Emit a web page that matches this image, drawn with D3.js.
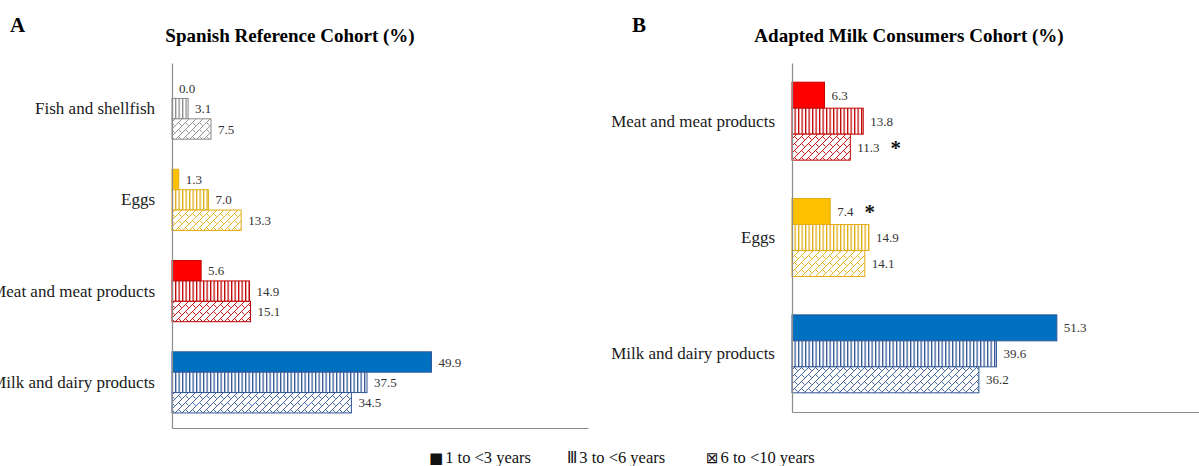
<!DOCTYPE html>
<html>
<head>
<meta charset="utf-8">
<script src="https://cdn.jsdelivr.net/npm/d3@7"></script>
<style>
  body { margin: 0; background: #fff; }
  svg { display: block; font-family: "Liberation Serif", "DejaVu Serif", serif; }
  .domain { stroke: #8c8c8c; stroke-width: 1.2; }
  .cat text { font-size: 17px; fill: #1a1a1a; font-family: "Liberation Serif", serif; }
  .val { font-size: 13px; fill: #333; }
</style>
</head>
<body>
<svg id="viz" width="1199" height="466"></svg>
<script>
// DATA
const seriesNames = ["1 to <3 years", "3 to <6 years", "6 to <10 years"];
const legendMarks = ["■", "Ⅲ", "⊠"];

const spanishCategories = ["Fish and shellfish", "Eggs", "Meat and meat products", "Milk and dairy products"];
const spanish1to3 = [0.0, 1.3, 5.6, 49.9];
const spanish3to6 = [3.1, 7.0, 14.9, 37.5];
const spanish6to10 = [7.5, 13.3, 15.1, 34.5];

const adaptedCategories = ["Meat and meat products", "Eggs", "Milk and dairy products"];
const adapted1to3 = [6.3, 7.4, 51.3];
const adapted3to6 = [13.8, 14.9, 39.6];
const adapted6to10 = [11.3, 14.1, 36.2];
// asterisk = significant difference vs reference cohort
const adaptedStar1to3 = [false, true, false];
const adaptedStar3to6 = [false, false, false];
const adaptedStar6to10 = [true, false, false];

(function () {
    'use strict';
    var svg = d3.select("#viz");
    var fmt = d3.format(".1f");

    // colours per food group: [solid fill, line colour]
    var palette = {
        "Fish and shellfish": ["#a6a6a6", "#8a8a8a"],
        "Eggs": ["#ffc000", "#e2ac10"],
        "Meat and meat products": ["#ff0000", "#c00000"],
        "Milk and dairy products": ["#0070c0", "#2f5597"]
    };

    // PATTERNS
    var defs = svg.append("defs");
    Object.keys(palette).forEach(function (k, i) {
        var c = palette[k][1];
        var vp = defs.append("pattern").attr("id", "vert" + i)
            .attr("patternUnits", "userSpaceOnUse").attr("width", 3.5).attr("height", 6);
        vp.append("rect").attr("width", 3.5).attr("height", 6).attr("fill", "#fff");
        vp.append("rect").attr("x", 0).attr("width", 1.3).attr("height", 6).attr("fill", c);

        var bp = defs.append("pattern").attr("id", "brick" + i)
            .attr("patternUnits", "userSpaceOnUse").attr("width", 7).attr("height", 7);
        bp.append("rect").attr("width", 7).attr("height", 7).attr("fill", "#fff");
        bp.append("path")
            .attr("d", "M0,7 L7,0 M-2,2 L2,-2 M5,9 L9,5 M3.5,3.5 L6.5,6.5")
            .attr("stroke", c).attr("stroke-width", 0.9).attr("fill", "none");
    });
    function fillFor(cat, s) {
        var i = Object.keys(palette).indexOf(cat);
        if (s === 0) return palette[cat][0];
        return s === 1 ? "url(#vert" + i + ")" : "url(#brick" + i + ")";
    }

    function drawPanel(p) {
        var y = d3.scaleBand().domain(p.categories).range([63, p.bottom])
            .paddingInner(0.33).paddingOuter(0.165);
        var ys = d3.scaleBand().domain(d3.range(3)).range([0, y.bandwidth()]);
        var x = d3.scaleLinear().domain([0, 80]).range(p.xRange);

        var rows = [];
        p.categories.forEach(function (c, ci) {
            p.values.forEach(function (arr, s) {
                rows.push({ cat: c, s: s, v: arr[ci], star: p.stars ? p.stars[s][ci] : false });
            });
        });

        var g = svg.append("g");
        g.selectAll(".bar").data(rows.filter(function (d) { return d.v > 0; }))
            .enter().append("rect")
            .attr("class", "bar")
            .attr("x", x(0))
            .attr("y", function (d) { return y(d.cat) + ys(d.s); })
            .attr("width", function (d) { return x(d.v) - x(0); })
            .attr("height", ys.bandwidth())
            .attr("fill", function (d) { return fillFor(d.cat, d.s); })
            .attr("stroke", function (d) { return palette[d.cat][1]; })
            .attr("stroke-width", 1);

        var lbl = g.selectAll(".val").data(rows).enter().append("text")
            .attr("class", "val")
            .attr("x", function (d) { return x(d.v) + 7; })
            .attr("y", function (d) { return y(d.cat) + ys(d.s) + ys.bandwidth() / 2; })
            .attr("dy", "0.35em")
            .text(function (d) { return fmt(d.v); });
        lbl.filter(function (d) { return d.star; }).append("tspan")
            .attr("dx", 11).attr("dy", "0.15em")
            .style("font-size", "21px").style("font-weight", "bold").style("fill", "#111")
            .text("*");

        // axes
        var ax = g.append("g").attr("class", "cat")
            .attr("transform", "translate(" + x(0) + ",0)")
            .call(d3.axisLeft(y).tickSize(0).tickPadding(17).tickSizeOuter(0));
        ax.attr("font-family", null).attr("font-size", null);
        g.append("g")
            .attr("transform", "translate(0," + p.bottom + ")")
            .call(d3.axisBottom(x).ticks(0).tickSizeOuter(0));

        svg.append("text").attr("x", p.letterX).attr("y", 32)
            .style("font-size", "21px").style("font-weight", "bold").text(p.letter);
        svg.append("text").attr("x", p.titleX).attr("y", 42)
            .attr("text-anchor", "middle")
            .style("font-size", "19px").style("font-weight", "bold").text(p.title);
    }

    drawPanel({
        categories: spanishCategories,
        values: [spanish1to3, spanish3to6, spanish6to10],
        bottom: 428, xRange: [172, 588],
        letter: "A", letterX: 10, title: "Spanish Reference Cohort (%)", titleX: 290
    });
    drawPanel({
        categories: adaptedCategories,
        values: [adapted1to3, adapted3to6, adapted6to10],
        stars: [adaptedStar1to3, adaptedStar3to6, adaptedStar6to10],
        bottom: 412, xRange: [792, 1205],
        letter: "B", letterX: 632, title: "Adapted Milk Consumers Cohort (%)", titleX: 909
    });

    // LEGEND
    var legX = [429, 567, 706];
    var leg = svg.append("g").selectAll("text").data(seriesNames).enter().append("text")
        .attr("x", function (d, i) { return legX[i]; })
        .attr("y", 463)
        .style("font-size", "16.5px").style("fill", "#111");
    leg.append("tspan").style("font-family", "DejaVu Sans").style("font-size", "15px")
        .text(function (d, i) { return legendMarks[i]; });
    leg.append("tspan").attr("dx", 2).text(function (d) { return d; });
}());
</script>
</body>
</html>
